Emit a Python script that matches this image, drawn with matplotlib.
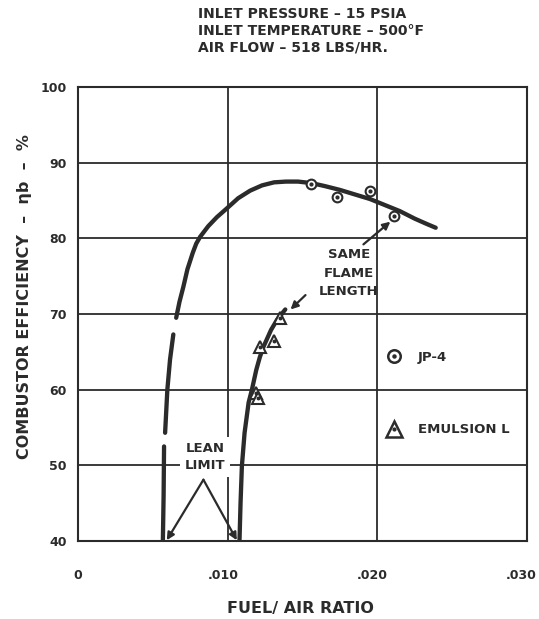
import matplotlib
matplotlib.use('Agg')
import matplotlib.pyplot as plt
import matplotlib.transforms as mtransforms
import numpy as np
from matplotlib.lines import Line2D

plt.rcParams['font.family'] = ['DejaVu Sans']
plt.rcParams['font.weight'] = 'bold'
INK = '#2b2b2b'

# faired curve through JP-4 data (None = break in the drawn line)
jp4_curve_x = [0.00567, 0.00572, 0.00575, None, 0.00582, 0.00597, 0.00615, 0.00637, None,
               0.00656, 0.00678, 0.00704, 0.00731, 0.00767, 0.00790, 0.00816, 0.00870, 0.00928,
               0.00997, 0.0107, 0.0115, 0.0123, 0.0131, 0.0139, 0.0147, 0.0156,
               0.0165, 0.0175, 0.0185, 0.0195, 0.0205, 0.0215, 0.0225, 0.0233, 0.0239]
jp4_curve_y = [40.0, 46.0, 52.5, None, 54.3, 60.0, 64.0, 67.3, None,
               69.5, 71.6, 73.6, 75.9, 78.1, 79.3, 80.2, 81.6, 82.8,
               84.0, 85.3, 86.3, 87.0, 87.4, 87.5, 87.5, 87.3,
               86.9, 86.4, 85.8, 85.2, 84.4, 83.6, 82.6, 81.9, 81.4]

# faired curve through emulsion data
emu_curve_x = [0.01079, 0.01086, 0.01095, 0.01113, 0.01140, 0.01162, 0.01191,
               0.01215, 0.01240, 0.01290, 0.01329, 0.01385]
emu_curve_y = [40.0, 45.0, 49.9, 54.3, 58.3, 60.0, 62.6,
               64.3, 65.7, 67.9, 69.2, 70.6]

# measured points
jp4_x = [0.0156, 0.0173, 0.0195, 0.0211]
jp4_y = [87.2, 85.4, 86.2, 82.9]
emu_x = [0.01347, 0.01307, 0.01217, 0.01191, 0.01200]
emu_y = [69.5, 66.4, 65.7, 59.6, 58.9]

x_ticks = [0, 0.010, 0.020, 0.030]
x_tick_labels = ['0', '.010', '.020', '.030']
y_ticks = [40, 50, 60, 70, 80, 90, 100]

fig = plt.figure(figsize=(5.39, 6.19), dpi=100)
ax = fig.add_axes([78/539, 1-541/619, (527-78)/539, (541-87)/619])

ax.set_xlim(0, 0.030)
ax.set_ylim(40, 100)
ax.set_xticks(x_ticks, x_tick_labels)
ax.set_yticks(y_ticks)
ax.tick_params(length=0, labelsize=9, colors=INK)
ax.tick_params(axis='x', pad=20)
ax.tick_params(axis='y', pad=8)
# the printed labels sit a little left of their grid lines
for lbl, dx in zip(ax.get_xticklabels(), [0, -4, -5, -6]):
    lbl.set_transform(lbl.get_transform() +
                      mtransforms.ScaledTranslation(dx/100, 0, fig.dpi_scale_trans))
for s in ax.spines.values():
    s.set_linewidth(1.5)
    s.set_color(INK)
ax.grid(True, color=INK, linewidth=1.3)
ax.set_axisbelow(True)

cx = np.array([np.nan if v is None else v for v in jp4_curve_x], dtype=float)
cy = np.array([np.nan if v is None else v for v in jp4_curve_y], dtype=float)
ax.plot(cx, cy, color=INK, lw=3.1, solid_capstyle='round', solid_joinstyle='round', zorder=3)
ax.plot(emu_curve_x, emu_curve_y, color=INK, lw=3.1, solid_capstyle='round',
        solid_joinstyle='round', zorder=3)

ax.plot(jp4_x, jp4_y, 'o', ms=7, mfc='white', mec=INK, mew=1.5, zorder=4)
ax.plot(jp4_x, jp4_y, 'o', ms=2, color=INK, zorder=5)
ax.plot(emu_x, emu_y, '^', ms=8.5, mfc='white', mec=INK, mew=1.5, zorder=4)
ax.plot(emu_x, emu_y, 'o', ms=1.8, color=INK, zorder=5)

# annotations
arr = dict(arrowstyle='-|>', color=INK, lw=1.6, mutation_scale=11, shrinkA=0, shrinkB=0)
ax.text(0.0181, 75.4, 'SAME\nFLAME\nLENGTH', ha='center', va='center',
        fontsize=9.5, color=INK, linespacing=1.55)
ax.annotate('', xy=(0.02087, 82.2), xytext=(0.01907, 79.2), arrowprops=arr)
ax.annotate('', xy=(0.0142, 70.6), xytext=(0.0152, 72.5), arrowprops=arr)

ax.text(0.0085, 51.1, 'LEAN\nLIMIT', ha='center', va='center', fontsize=9.5,
        color=INK, linespacing=1.4, zorder=2,
        bbox=dict(boxstyle='square,pad=0.35', fc='white', ec='none'))
ax.annotate('', xy=(0.00593, 40.1), xytext=(0.00838, 48.1), arrowprops=arr, zorder=3)
ax.annotate('', xy=(0.01061, 40.1), xytext=(0.00838, 48.1), arrowprops=arr, zorder=3)

# legend
h_jp4 = (Line2D([], [], ls='none', marker='o', ms=9, mfc='white', mec=INK, mew=1.8),
         Line2D([], [], ls='none', marker='o', ms=2.2, color=INK))
h_emu = (Line2D([], [], ls='none', marker='^', ms=11, mfc='white', mec=INK, mew=1.8),
         Line2D([], [], ls='none', marker='o', ms=2, color=INK))
ax.legend([h_jp4, h_emu], ['JP-4', 'EMULSION L'], loc='upper left',
          bbox_to_anchor=(0.663, 0.445), frameon=False, fontsize=9.5,
          labelspacing=4.5, handlelength=1.0, handletextpad=1.3,
          labelcolor=INK)

fig.text(25/539, 1-297/619, 'COMBUSTOR EFFICIENCY  \u2013  \u03b7b  \u2013  %',
         rotation=90, ha='center', va='center', fontsize=11.5, color=INK)
fig.text(300/539, 1-608/619, 'FUEL/ AIR RATIO', ha='center', va='center',
         fontsize=11.5, color=INK)
fig.text(198/539, 1-7/619,
         'INLET PRESSURE \u2013 15 PSIA\nINLET TEMPERATURE \u2013 500\u00b0F\nAIR FLOW \u2013 518 LBS/HR.',
         ha='left', va='top', fontsize=10, color=INK, linespacing=1.25)

plt.savefig('out.png', dpi=100, facecolor='white')
